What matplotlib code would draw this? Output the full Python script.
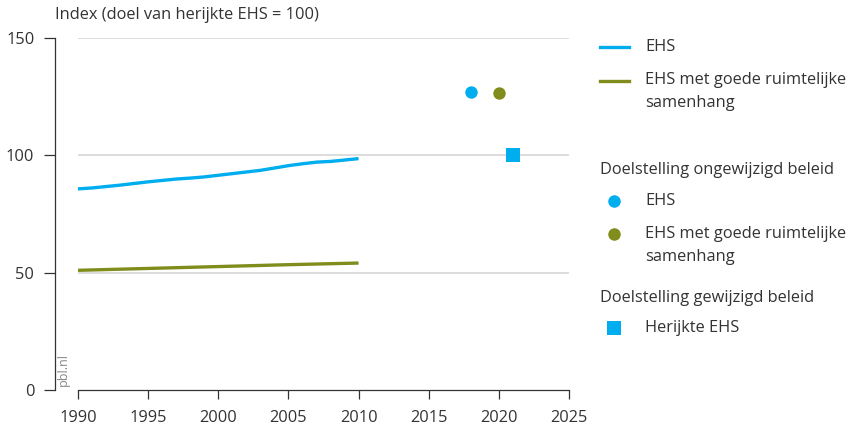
import matplotlib
matplotlib.use("Agg")
import matplotlib.pyplot as plt
from matplotlib.lines import Line2D

plt.rcParams['font.family'] = ['Open Sans', 'DejaVu Sans']

# Index series (target of recalibrated EHS = 100)
years = list(range(1990, 2011))
ehs = [85.7, 86.1, 86.7, 87.3, 88.0, 88.7, 89.3, 89.9, 90.3, 90.8, 91.5,
       92.2, 92.9, 93.6, 94.6, 95.6, 96.4, 97.1, 97.4, 98.0, 98.6]
years_samenhang = [1990, 1995, 2000, 2005, 2010]
ehs_samenhang = [51.0, 51.8, 52.6, 53.4, 54.1]

# Targets
target_years_unchanged = [2018, 2020]
target_values_unchanged = [127.2, 126.5]
target_year_changed = [2021]
target_value_changed = [100]

x_ticks = [1990, 1995, 2000, 2005, 2010, 2015, 2020, 2025]
y_ticks = [0, 50, 100, 150]

BLUE = '#00aeef'
OLIVE = '#808c1c'
TEXT = '#333333'
GRID = '#dcdcdc'
FS = 11.8

fig = plt.figure(figsize=(8.5, 4.3), dpi=100)
W, H = 850, 430
ax = fig.add_axes([78 / W, 40 / H, (569 - 78) / W, (390 - 38) / H])

ax.set_xlim(1990, 2025)
ax.set_ylim(0, 150)

for yv in y_ticks[1:]:
    ax.axhline(yv, color=GRID, lw=1.4, zorder=1)

ax.plot(years, ehs, color=BLUE, lw=2.4, solid_capstyle='butt', zorder=3)
ax.plot(years_samenhang, ehs_samenhang, color=OLIVE, lw=2.4,
        solid_capstyle='butt', zorder=3)
ax.scatter(target_years_unchanged[:1], target_values_unchanged[:1], s=80,
           color=BLUE, zorder=4, linewidths=0)
ax.scatter(target_years_unchanged[1:], target_values_unchanged[1:], s=80,
           color=OLIVE, zorder=4, linewidths=0)
ax.scatter(target_year_changed, target_value_changed, s=110, marker='s',
           color=BLUE, zorder=4, linewidths=0)

for s in ['top', 'right']:
    ax.spines[s].set_visible(False)
ax.spines['left'].set_position(('outward', 16.5))
ax.spines['left'].set_bounds(0, 150)
ax.spines['left'].set_color(TEXT)
ax.spines['bottom'].set_color(TEXT)
ax.spines['left'].set_linewidth(0.9)
ax.spines['bottom'].set_linewidth(0.9)

ax.set_xticks(x_ticks)
ax.set_yticks(y_ticks)
ax.set_xticklabels([str(v) for v in x_ticks])
ax.set_yticklabels([str(v) for v in y_ticks])
ax.tick_params(axis='x', direction='out', length=6.5, width=0.9, color=TEXT,
               labelcolor=TEXT, labelsize=FS, pad=8)
ax.tick_params(axis='y', direction='out', length=8, width=0.9, color=TEXT,
               labelcolor=TEXT, labelsize=FS, pad=7)

fig.text(55 / W, 1 - 15 / H, 'Index (doel van herijkte EHS = 100)',
         ha='left', va='center', fontsize=FS, color=TEXT)
fig.text(63 / W, 1 - 386 / H, 'pbl.nl', rotation=90, ha='center',
         va='bottom', fontsize=9, color='#888888')

# Legend, laid out by hand in figure pixels
def fy(y):
    return 1 - y / H

def fx(x):
    return x / W

fig.add_artist(Line2D([fx(600), fx(629)], [fy(47), fy(47)], color=BLUE,
                      lw=2.4, transform=fig.transFigure))
fig.add_artist(Line2D([fx(600), fx(629)], [fy(81), fy(81)], color=OLIVE,
                      lw=2.4, transform=fig.transFigure))
fig.add_artist(Line2D([fx(614)], [fy(201)], marker='o', markersize=9,
                      color=BLUE, lw=0, mew=0, transform=fig.transFigure))
fig.add_artist(Line2D([fx(614)], [fy(234)], marker='o', markersize=9,
                      color=OLIVE, lw=0, mew=0, transform=fig.transFigure))
fig.add_artist(Line2D([fx(614)], [fy(328)], marker='s', markersize=10,
                      color=BLUE, lw=0, mew=0, transform=fig.transFigure))

legend_texts = [
    (645, 47, 'EHS'),
    (645, 80, 'EHS met goede ruimtelijke'),
    (645, 103, 'samenhang'),
    (600, 170, 'Doelstelling ongewijzigd beleid'),
    (645, 201, 'EHS'),
    (645, 234, 'EHS met goede ruimtelijke'),
    (645, 257, 'samenhang'),
    (600, 298, 'Doelstelling gewijzigd beleid'),
    (645, 328, 'Herijkte EHS'),
]
for x, y, t in legend_texts:
    fig.text(fx(x), fy(y), t, ha='left', va='center', fontsize=FS, color=TEXT)

fig.savefig('out.png', dpi=100)
